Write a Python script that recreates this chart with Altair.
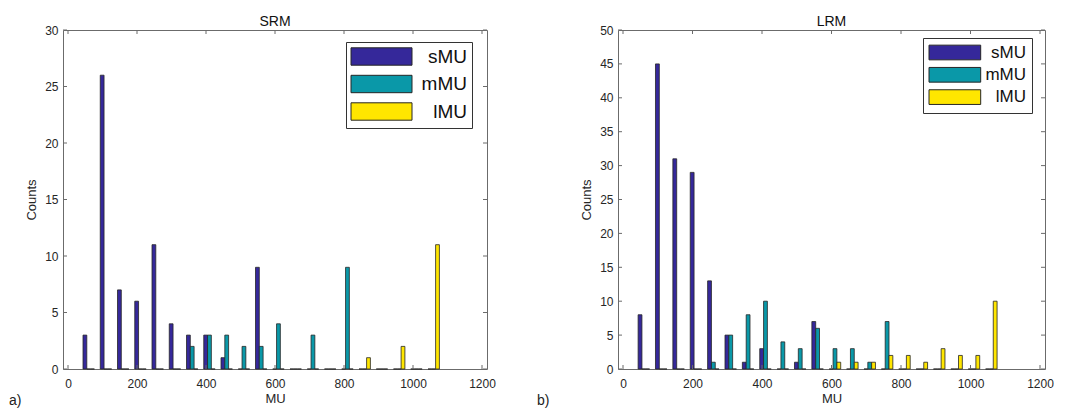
import altair as alt
import pandas as pd

# ---- data ----
series = ["sMU", "mMU", "lMU"]
colors = ["#35289a", "#0a98a8", "#ffe600"]
group_centers = [60, 110, 160, 210, 260, 310, 360, 410, 460, 510, 560,
                 610, 660, 710, 760, 810, 860, 910, 960, 1010, 1060]
series_offsets = [-11, 0, 11]

srm_smu = [3, 26, 7, 6, 11, 4, 3, 3, 1, 0, 9, 0, 0, 0, 0, 0, 0, 0, 0, 0, 0]
srm_mmu = [0, 0, 0, 0, 0, 0, 2, 3, 3, 2, 2, 4, 0, 3, 0, 9, 0, 0, 0, 0, 0]
srm_lmu = [0, 0, 0, 0, 0, 0, 0, 0, 0, 0, 0, 0, 0, 0, 0, 0, 1, 0, 2, 0, 11]

lrm_smu = [8, 45, 31, 29, 13, 5, 1, 3, 0, 1, 7, 0, 0, 0, 0, 0, 0, 0, 0, 0, 0]
lrm_mmu = [0, 0, 0, 0, 1, 5, 8, 10, 4, 3, 6, 3, 3, 1, 7, 0, 0, 0, 0, 0, 0]
lrm_lmu = [0, 0, 0, 0, 0, 0, 0, 0, 0, 0, 0, 1, 1, 1, 2, 2, 1, 3, 2, 2, 10]

x_ticks = [0, 200, 400, 600, 800, 1000, 1200]
srm_y_ticks = [0, 5, 10, 15, 20, 25, 30]
lrm_y_ticks = [0, 5, 10, 15, 20, 25, 30, 35, 40, 45, 50]

FONT = "Liberation Sans"
TXT = "#262626"
BOX = "#6b6b6b"


def panel(title, s, m, l, y_ticks, w, h, leg, tag, tag_x):
    rows = []
    for name, vals, off in zip(series, [s, m, l], series_offsets):
        for c, v in zip(group_centers, vals):
            rows.append({"series": name, "center": c, "off": off, "count": v})
    df = pd.DataFrame(rows)

    xs = alt.Scale(domain=[x_ticks[0], x_ticks[-1]], nice=False, zero=False)
    ys = alt.Scale(domain=[y_ticks[0], y_ticks[-1]], nice=False)
    x_axis = alt.Axis(values=x_ticks, title="MU", format="d",
                      labelPadding=9, titlePadding=3)
    y_axis = alt.Axis(values=y_ticks, title="Counts", format="d",
                      labelPadding=5, titlePadding=6)

    bars = alt.Chart(df).transform_calculate(
        xa="datum.center + datum.off - 5.5",
        xb="datum.center + datum.off + 5.5",
    ).mark_bar(stroke="#262626", strokeWidth=0.8, orient="vertical").encode(
        x=alt.X("xa:Q", scale=xs, axis=x_axis),
        x2="xb:Q",
        y=alt.Y("count:Q", scale=ys, axis=y_axis),
        y2=alt.datum(0),
        color=alt.Color("series:N", title=None,
                        scale=alt.Scale(domain=series, range=colors),
                        legend=alt.Legend(
                            orient="none", legendX=leg["x"], legendY=leg["y"],
                            symbolType=leg["path"], symbolSize=100,
                            symbolStrokeColor="#262626", symbolStrokeWidth=1,
                            symbolOpacity=1,
                            labelFont=FONT, labelFontSize=leg["fs"],
                            labelColor="#111111", labelAlign="right",
                            labelOffset=leg["lo"], labelLimit=300,
                            rowPadding=leg["rp"], padding=leg["pad"],
                            strokeColor="#333333", fillColor="white")),
    )

    xt = pd.DataFrame({"v": x_ticks})
    yt = pd.DataFrame({"v": y_ticks})
    tick_bottom = alt.Chart(xt).mark_rule(color=BOX).encode(
        x=alt.X("v:Q", scale=xs, axis=x_axis), y=alt.value(h), y2=alt.value(h - 4))
    tick_top = alt.Chart(xt).mark_rule(color=BOX).encode(
        x=alt.X("v:Q", scale=xs, axis=x_axis), y=alt.value(0), y2=alt.value(4))
    tick_left = alt.Chart(yt).mark_rule(color=BOX).encode(
        y=alt.Y("v:Q", scale=ys, axis=y_axis), x=alt.value(0), x2=alt.value(4))
    tick_right = alt.Chart(yt).mark_rule(color=BOX).encode(
        y=alt.Y("v:Q", scale=ys, axis=y_axis), x=alt.value(w - 4), x2=alt.value(w))

    label = alt.Chart(pd.DataFrame({"t": [tag]})).mark_text(
        font=FONT, fontSize=14, color="#222222", align="left", baseline="middle"
    ).encode(text="t:N", x=alt.value(tag_x), y=alt.value(h + 32))

    return alt.layer(bars, tick_bottom, tick_top, tick_left, tick_right, label).properties(
        width=w, height=h,
        title=alt.Title(title, font=FONT, fontSize=14, fontWeight="normal",
                        color="#111111", offset=-5),
    )


srm_leg = {"x": 283, "y": 12, "fs": 19, "lo": 97, "rp": 4.5, "pad": 5,
           "path": "M-1.9,-1.74H10.3V1.74H-1.9Z"}
lrm_leg = {"x": 305, "y": 8, "fs": 17, "lo": 80, "rp": 3.3, "pad": 6,
           "path": "M-1.7,-1.47H8.64V1.47H-1.7Z"}

left = panel("SRM", srm_smu, srm_mmu, srm_lmu, srm_y_ticks, 424, 339,
             srm_leg, "a)", -54)
right = panel("LRM", lrm_smu, lrm_mmu, lrm_lmu, lrm_y_ticks, 427, 339,
              lrm_leg, "b)", -81)

chart = alt.hconcat(left, right, spacing=40).resolve_scale(
    color="independent").resolve_legend(color="independent").properties(
    padding={"left": 0, "top": 6, "right": 0, "bottom": 0}
).configure_view(stroke=BOX, strokeWidth=1).configure_axis(
    labelFont=FONT, labelFontSize=12, labelColor=TXT,
    titleFont=FONT, titleFontSize=13, titleFontWeight="normal", titleColor=TXT,
    grid=False, domain=False, ticks=False, tickSize=0,
)

chart.save("out.html", embed_options={"renderer": "svg", "actions": False})
